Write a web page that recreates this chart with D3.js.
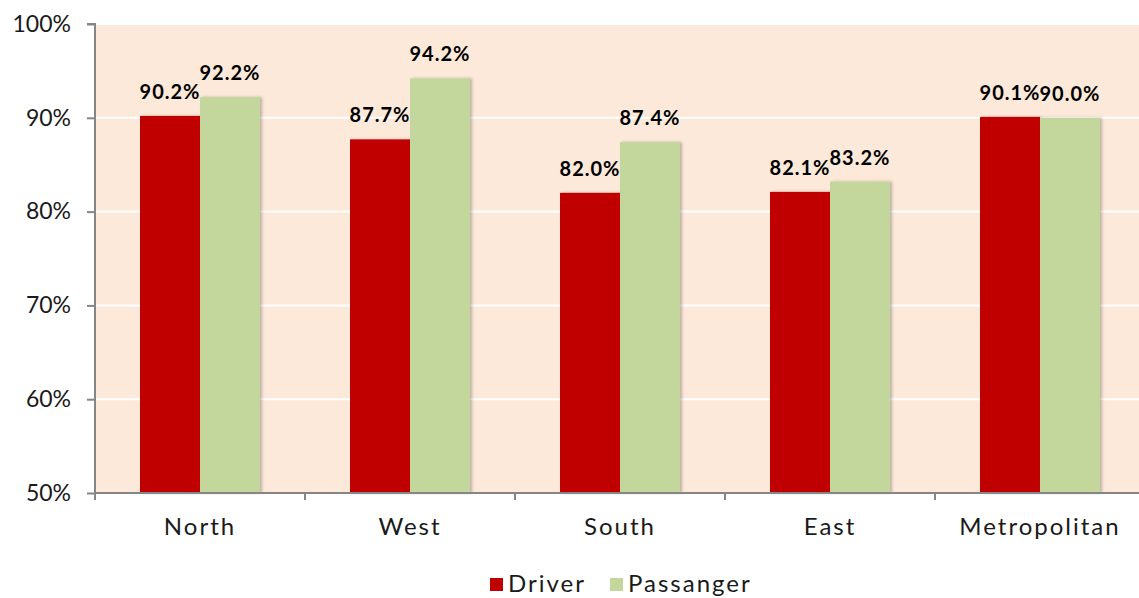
<!DOCTYPE html>
<meta charset="utf-8">
<style>
body { margin: 0; background: #fff; }
text { font-family: "Lato", "Noto Sans", sans-serif; fill: #1a1a1a; }
.tick text { font-size: 23px; font-family: "Lato", sans-serif; }
.xax .tick text { letter-spacing: 2px; font-size: 24px; }
.lbl { font: bold 20px "Lato", sans-serif; fill: #000; letter-spacing: 1px; }
.legend text { font-size: 24px; letter-spacing: 2px; }
</style>
<svg width="1139" height="598"></svg>
<script src="https://d3js.org/d3.v7.min.js"></script>
<script>

// regions along x, two series per region
var regions = ["North", "West", "South", "East", "Metropolitan"];
var driver = [90.2, 87.7, 82.0, 82.1, 90.1];
var passanger = [92.2, 94.2, 87.4, 83.2, 90.0];
var seriesNames = ["Driver", "Passanger"];
var yTicks = [50, 60, 70, 80, 90, 100];

var colors = ["#C00000", "#C3D69B"];

var svg = d3.select("svg");
var mLeft = 95, mTop = 24, mBottom = 493, mRight = 1145;

var x = d3.scaleBand().domain(regions).range([mLeft, mRight]);
var inner = d3.scaleBand().domain(seriesNames).range([0, 120]);
var y = d3.scaleLinear().domain([50, 100]).range([mBottom, mTop]);

// shadow for bars
var defs = svg.append("defs");
var f = defs.append("filter").attr("id", "sh").attr("x", "-10%").attr("width", "130%");
f.append("feDropShadow").attr("dx", 2).attr("dy", 0).attr("stdDeviation", 1.5)
  .attr("flood-color", "#000").attr("flood-opacity", 0.25);

svg.append("rect")
  .attr("x", mLeft).attr("y", mTop)
  .attr("width", mRight - mLeft).attr("height", mBottom - mTop)
  .attr("fill", "#FDE9D9");

// gridlines
svg.append("g").selectAll("line")
  .data(yTicks.slice(1))
  .join("line")
  .attr("x1", mLeft).attr("x2", mRight)
  .attr("y1", function(d) { return y(d); })
  .attr("y2", function(d) { return y(d); })
  .attr("stroke", "#fff").attr("stroke-width", 2);

var rows = regions.map(function(r, i) {
  return [{r: r, s: "Driver", v: driver[i]}, {r: r, s: "Passanger", v: passanger[i]}];
});

var groups = svg.append("g").selectAll("g")
  .data(rows)
  .join("g")
  .attr("transform", function(d) { return "translate(" + (x(d[0].r) + x.bandwidth() / 2 - 60) + ",0)"; });

groups.selectAll("rect")
  .data(function(d) { return d; })
  .join("rect")
  .attr("x", function(d) { return inner(d.s); })
  .attr("width", inner.bandwidth())
  .attr("y", function(d) { return y(d.v); })
  .attr("height", function(d) { return mBottom - y(d.v); })
  .attr("fill", function(d, i) { return colors[i]; })
  .attr("filter", "url(#sh)");

groups.selectAll("text")
  .data(function(d) { return d; })
  .join("text")
  .attr("class", "lbl")
  .attr("text-anchor", "middle")
  .attr("x", function(d) { return inner(d.s) + inner.bandwidth() / 2; })
  .attr("y", function(d) { return y(d.v) - 17; })
  .text(function(d) { return d.v.toFixed(1) + "%"; });

// y axis
var yAxis = svg.append("g")
  .attr("transform", "translate(" + mLeft + ",0)")
  .call(d3.axisLeft(y).tickValues(yTicks).tickFormat(function(d) { return d + "%"; }).tickSize(8).tickPadding(16));

// x axis
var xAxis = svg.append("g")
  .attr("class", "xax")
  .attr("transform", "translate(0," + mBottom + ")")
  .call(d3.axisBottom(x).tickSize(0).tickPadding(25));

xAxis.append("g").selectAll("line")
  .data(regions)
  .join("line")
  .attr("x1", function(d) { return x(d); })
  .attr("x2", function(d) { return x(d); })
  .attr("y1", 0).attr("y2", 7);

svg.selectAll(".domain").attr("stroke", "#868686").attr("stroke-width", 2);
svg.selectAll(".tick line").attr("stroke", "#868686").attr("stroke-width", 2);
xAxis.selectAll("line").attr("stroke", "#868686").attr("stroke-width", 2);
svg.selectAll(".tick text").attr("fill", "#1a1a1a");
yAxis.select(".domain").attr("d", "M-8," + mTop + "H0V" + (mBottom + 7));
xAxis.select(".domain").attr("d", "M" + mLeft + ",0H" + mRight);

// legend
var legend = svg.append("g").attr("class", "legend")
  .attr("transform", "translate(490,578)");
var items = legend.selectAll("g")
  .data(seriesNames)
  .join("g")
  .attr("transform", function(d, i) { return "translate(" + (i * 120) + ",0)"; });
items.append("rect")
  .attr("width", 13).attr("height", 13)
  .attr("fill", function(d, i) { return colors[i]; });
items.append("text")
  .attr("x", 18).attr("y", 14)
  .text(function(d) { return d; });

</script>
